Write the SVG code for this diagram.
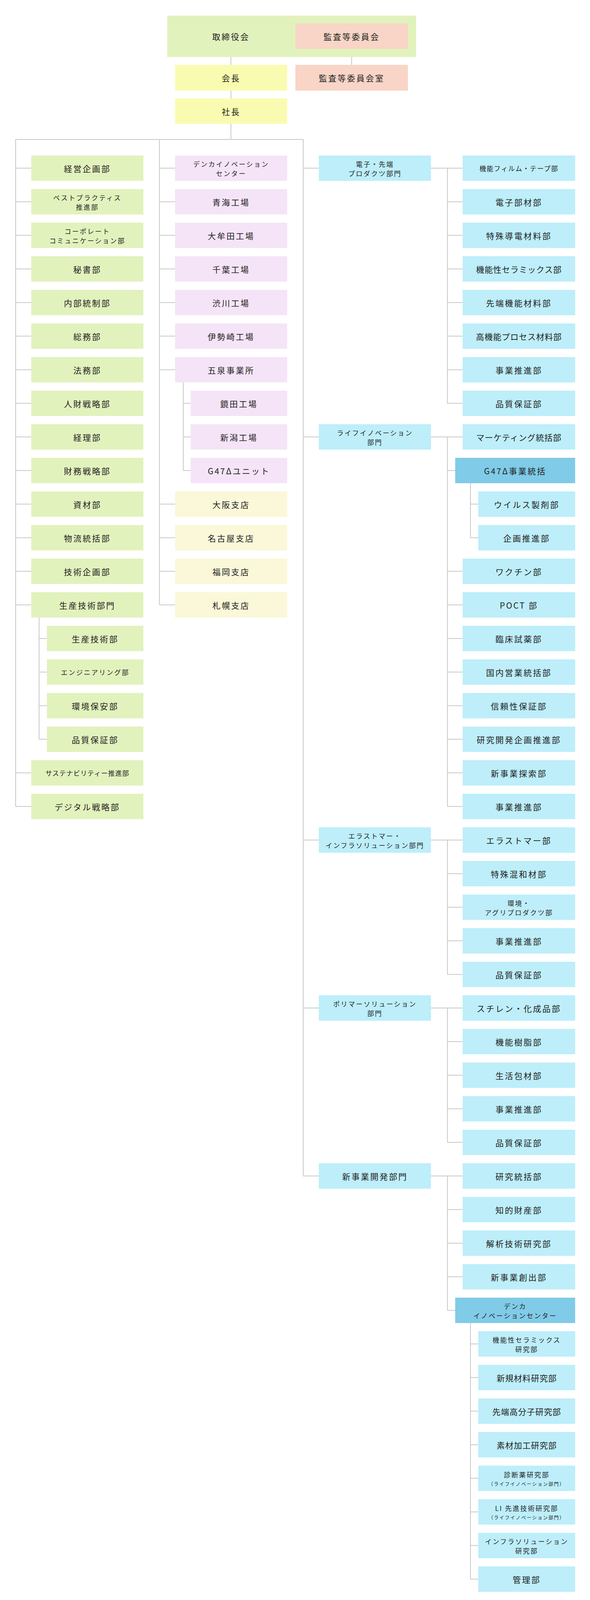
<svg xmlns="http://www.w3.org/2000/svg" width="1510" height="4116" viewBox="0 0 1510 4116">
<style>
text{font-family:"Noto Sans CJK JP","Noto Sans",sans-serif;font-size:21px;letter-spacing:3px;fill:#222;text-anchor:middle;dominant-baseline:central}
.s{font-size:17px;letter-spacing:2.5px}
.xs{font-size:12px;letter-spacing:2px}
.g{fill:#e2f2bd}.p{fill:#f5e4f7}.y{fill:#faf8d8}.b{fill:#bdeefa}.d{fill:#80cbe8}.k{fill:#f9fcb0}.a{fill:#f8d5c6}
#c path{stroke:#c8c8c8;stroke-width:2;fill:none}
</style>
<rect width="1510" height="4116" fill="#fff"/>
<g id="c">
<path d="M591 146V166M591 232V252M591 317V357M900 125V166M40 357H776M40 357V2064.5M408 357V1548.5M776 357V3010.5"/>
<path d="M40 430.5H80M40 516.5H80M40 602.5H80M40 688.5H80M40 774.5H80M40 860.5H80M40 946.5H80M40 1032.5H80M40 1118.5H80M40 1204.5H80M40 1290.5H80M40 1376.5H80M40 1462.5H80M40 1548.5H80M40 1978.5H80M40 2064.5H80"/>
<path d="M100 1581V1892.5M100 1634.5H120M100 1720.5H120M100 1806.5H120M100 1892.5H120"/>
<path d="M408 430.5H448M408 516.5H448M408 602.5H448M408 688.5H448M408 774.5H448M408 860.5H448M408 946.5H448M408 1290.5H448M408 1376.5H448M408 1462.5H448M408 1548.5H448"/>
<path d="M469 979V1204.5M469 1032.5H488M469 1118.5H488M469 1204.5H488"/>
<path d="M776 430.5H816M776 1118.5H816M776 2150.5H816M776 2580.5H816M776 3010.5H816"/>
<path d="M1103 430.5H1184M1145 430.5V1032.5M1145 516.5H1184M1145 602.5H1184M1145 688.5H1184M1145 774.5H1184M1145 860.5H1184M1145 946.5H1184M1145 1032.5H1184"/>
<path d="M1103 1118.5H1184M1145 1118.5V2064.5M1145 1204.5H1165M1145 1462.5H1184M1145 1548.5H1184M1145 1634.5H1184M1145 1720.5H1184M1145 1806.5H1184M1145 1892.5H1184M1145 1978.5H1184M1145 2064.5H1184"/>
<path d="M1204 1237V1376.5M1204 1290.5H1224M1204 1376.5H1224"/>
<path d="M1103 2150.5H1184M1145 2150.5V2494.5M1145 2236.5H1184M1145 2322.5H1184M1145 2408.5H1184M1145 2494.5H1184"/>
<path d="M1103 2580.5H1184M1145 2580.5V2924.5M1145 2666.5H1184M1145 2752.5H1184M1145 2838.5H1184M1145 2924.5H1184"/>
<path d="M1103 3010.5H1184M1145 3010.5V3354.5M1145 3096.5H1184M1145 3182.5H1184M1145 3268.5H1184M1145 3354.5H1165"/>
<path d="M1204 3387V4042.5M1204 3440.5H1224M1204 3526.5H1224M1204 3612.5H1224M1204 3698.5H1224M1204 3784.5H1224M1204 3870.5H1224M1204 3956.5H1224M1204 4042.5H1224"/>
</g>
<g id="board"><rect class="g" x="428" y="40" width="637" height="106"/><text x="591" y="93">取締役会</text></g>
<g id="audit"><rect class="a" x="756" y="60" width="288" height="65"/><text x="900" y="92.5">監査等委員会</text></g>
<g id="chairman"><rect class="k" x="448" y="166" width="287" height="66"/><text x="591.5" y="199">会長</text></g>
<g id="auditoffice"><rect class="a" x="756" y="166" width="288" height="66"/><text x="900" y="199">監査等委員会室</text></g>
<g id="president"><rect class="k" x="448" y="252" width="287" height="65"/><text x="591.5" y="284.5">社長</text></g>

<g id="l0" transform="translate(80,398)"><rect class="g" width="287" height="65"/><text x="143.5" y="32.5">経営企画部</text></g>
<g id="l1" transform="translate(80,484)"><rect class="g" width="287" height="65"/><text class="s" x="143.5" y="21">ベストプラクティス</text><text class="s" x="143.5" y="45">推進部</text></g>
<g id="l2" transform="translate(80,570)"><rect class="g" width="287" height="65"/><text class="s" x="143.5" y="21">コーポレート</text><text class="s" x="143.5" y="45">コミュニケーション部</text></g>
<g id="l3" transform="translate(80,656)"><rect class="g" width="287" height="65"/><text x="143.5" y="32.5">秘書部</text></g>
<g id="l4" transform="translate(80,742)"><rect class="g" width="287" height="65"/><text x="143.5" y="32.5">内部統制部</text></g>
<g id="l5" transform="translate(80,828)"><rect class="g" width="287" height="65"/><text x="143.5" y="32.5">総務部</text></g>
<g id="l6" transform="translate(80,914)"><rect class="g" width="287" height="65"/><text x="143.5" y="32.5">法務部</text></g>
<g id="l7" transform="translate(80,1000)"><rect class="g" width="287" height="65"/><text x="143.5" y="32.5">人財戦略部</text></g>
<g id="l8" transform="translate(80,1086)"><rect class="g" width="287" height="65"/><text x="143.5" y="32.5">経理部</text></g>
<g id="l9" transform="translate(80,1172)"><rect class="g" width="287" height="65"/><text x="143.5" y="32.5">財務戦略部</text></g>
<g id="l10" transform="translate(80,1258)"><rect class="g" width="287" height="65"/><text x="143.5" y="32.5">資材部</text></g>
<g id="l11" transform="translate(80,1344)"><rect class="g" width="287" height="65"/><text x="143.5" y="32.5">物流統括部</text></g>
<g id="l12" transform="translate(80,1430)"><rect class="g" width="287" height="65"/><text x="143.5" y="32.5">技術企画部</text></g>
<g id="l13" transform="translate(80,1516)"><rect class="g" width="287" height="65"/><text x="143.5" y="32.5">生産技術部門</text></g>
<g id="l14" transform="translate(120,1602)"><rect class="g" width="247" height="65"/><text x="123.5" y="32.5">生産技術部</text></g>
<g id="l15" transform="translate(120,1688)"><rect class="g" width="247" height="65"/><text class="s" x="123.5" y="32.5">エンジニアリング部</text></g>
<g id="l16" transform="translate(120,1774)"><rect class="g" width="247" height="65"/><text x="123.5" y="32.5">環境保安部</text></g>
<g id="l17" transform="translate(120,1860)"><rect class="g" width="247" height="65"/><text x="123.5" y="32.5">品質保証部</text></g>
<g id="l18" transform="translate(80,1946)"><rect class="g" width="287" height="65"/><text class="s" x="143.5" y="32.5" style="letter-spacing:1px">サステナビリティー推進部</text></g>
<g id="l19" transform="translate(80,2032)"><rect class="g" width="287" height="65"/><text x="143.5" y="32.5">デジタル戦略部</text></g>

<g id="m0" transform="translate(448,398)"><rect class="p" width="287" height="65"/><text class="s" x="143.5" y="21">デンカイノベーション</text><text class="s" x="143.5" y="45">センター</text></g>
<g id="m1" transform="translate(448,484)"><rect class="p" width="287" height="65"/><text x="143.5" y="32.5">青海工場</text></g>
<g id="m2" transform="translate(448,570)"><rect class="p" width="287" height="65"/><text x="143.5" y="32.5">大牟田工場</text></g>
<g id="m3" transform="translate(448,656)"><rect class="p" width="287" height="65"/><text x="143.5" y="32.5">千葉工場</text></g>
<g id="m4" transform="translate(448,742)"><rect class="p" width="287" height="65"/><text x="143.5" y="32.5">渋川工場</text></g>
<g id="m5" transform="translate(448,828)"><rect class="p" width="287" height="65"/><text x="143.5" y="32.5">伊勢崎工場</text></g>
<g id="m6" transform="translate(448,914)"><rect class="p" width="287" height="65"/><text x="143.5" y="32.5">五泉事業所</text></g>
<g id="m7" transform="translate(488,1000)"><rect class="p" width="247" height="65"/><text x="123.5" y="32.5">鏡田工場</text></g>
<g id="m8" transform="translate(488,1086)"><rect class="p" width="247" height="65"/><text x="123.5" y="32.5">新潟工場</text></g>
<g id="m9" transform="translate(488,1172)"><rect class="p" width="247" height="65"/><text x="123.5" y="32.5">G47Δユニット</text></g>
<g id="m10" transform="translate(448,1258)"><rect class="y" width="287" height="65"/><text x="143.5" y="32.5">大阪支店</text></g>
<g id="m11" transform="translate(448,1344)"><rect class="y" width="287" height="65"/><text x="143.5" y="32.5">名古屋支店</text></g>
<g id="m12" transform="translate(448,1430)"><rect class="y" width="287" height="65"/><text x="143.5" y="32.5">福岡支店</text></g>
<g id="m13" transform="translate(448,1516)"><rect class="y" width="287" height="65"/><text x="143.5" y="32.5">札幌支店</text></g>

<g id="d0" transform="translate(816,398)"><rect class="b" width="287" height="65"/><text class="s" x="143.5" y="21">電子・先端</text><text class="s" x="143.5" y="45">プロダクツ部門</text></g>
<g id="d8" transform="translate(816,1086)"><rect class="b" width="287" height="65"/><text class="s" x="143.5" y="21">ライフイノベーション</text><text class="s" x="143.5" y="45">部門</text></g>
<g id="d20" transform="translate(816,2118)"><rect class="b" width="287" height="65"/><text class="s" x="143.5" y="21">エラストマー・</text><text class="s" x="143.5" y="45">インフラソリューション部門</text></g>
<g id="d25" transform="translate(816,2548)"><rect class="b" width="287" height="65"/><text class="s" x="143.5" y="21">ポリマーソリューション</text><text class="s" x="143.5" y="45">部門</text></g>
<g id="d30" transform="translate(816,2978)"><rect class="b" width="287" height="65"/><text x="143.5" y="32.5">新事業開発部門</text></g>

<g id="r0" transform="translate(1184,398)"><rect class="b" width="288" height="65"/><text class="s" x="144" y="32.5" style="letter-spacing:1.5px">機能フィルム・テープ部</text></g>
<g id="r1" transform="translate(1184,484)"><rect class="b" width="288" height="65"/><text x="144" y="32.5">電子部材部</text></g>
<g id="r2" transform="translate(1184,570)"><rect class="b" width="288" height="65"/><text x="144" y="32.5">特殊導電材料部</text></g>
<g id="r3" transform="translate(1184,656)"><rect class="b" width="288" height="65"/><text x="144" y="32.5" style="letter-spacing:1px">機能性セラミックス部</text></g>
<g id="r4" transform="translate(1184,742)"><rect class="b" width="288" height="65"/><text x="144" y="32.5">先端機能材料部</text></g>
<g id="r5" transform="translate(1184,828)"><rect class="b" width="288" height="65"/><text x="144" y="32.5" style="letter-spacing:1px">高機能プロセス材料部</text></g>
<g id="r6" transform="translate(1184,914)"><rect class="b" width="288" height="65"/><text x="144" y="32.5">事業推進部</text></g>
<g id="r7" transform="translate(1184,1000)"><rect class="b" width="288" height="65"/><text x="144" y="32.5">品質保証部</text></g>
<g id="r8" transform="translate(1184,1086)"><rect class="b" width="288" height="65"/><text x="144" y="32.5" style="letter-spacing:1px">マーケティング統括部</text></g>
<g id="r9" transform="translate(1165,1172)"><rect class="d" width="307" height="65"/><text x="153.5" y="32.5">G47Δ事業統括</text></g>
<g id="r10" transform="translate(1224,1258)"><rect class="b" width="248" height="65"/><text x="124" y="32.5">ウイルス製剤部</text></g>
<g id="r11" transform="translate(1224,1344)"><rect class="b" width="248" height="65"/><text x="124" y="32.5">企画推進部</text></g>
<g id="r12" transform="translate(1184,1430)"><rect class="b" width="288" height="65"/><text x="144" y="32.5">ワクチン部</text></g>
<g id="r13" transform="translate(1184,1516)"><rect class="b" width="288" height="65"/><text x="144" y="32.5">POCT 部</text></g>
<g id="r14" transform="translate(1184,1602)"><rect class="b" width="288" height="65"/><text x="144" y="32.5">臨床試薬部</text></g>
<g id="r15" transform="translate(1184,1688)"><rect class="b" width="288" height="65"/><text x="144" y="32.5">国内営業統括部</text></g>
<g id="r16" transform="translate(1184,1774)"><rect class="b" width="288" height="65"/><text x="144" y="32.5">信頼性保証部</text></g>
<g id="r17" transform="translate(1184,1860)"><rect class="b" width="288" height="65"/><text x="144" y="32.5">研究開発企画推進部</text></g>
<g id="r18" transform="translate(1184,1946)"><rect class="b" width="288" height="65"/><text x="144" y="32.5">新事業探索部</text></g>
<g id="r19" transform="translate(1184,2032)"><rect class="b" width="288" height="65"/><text x="144" y="32.5">事業推進部</text></g>
<g id="r20" transform="translate(1184,2118)"><rect class="b" width="288" height="65"/><text x="144" y="32.5">エラストマー部</text></g>
<g id="r21" transform="translate(1184,2204)"><rect class="b" width="288" height="65"/><text x="144" y="32.5">特殊混和材部</text></g>
<g id="r22" transform="translate(1184,2290)"><rect class="b" width="288" height="65"/><text class="s" x="144" y="21">環境・</text><text class="s" x="144" y="45">アグリプロダクツ部</text></g>
<g id="r23" transform="translate(1184,2376)"><rect class="b" width="288" height="65"/><text x="144" y="32.5">事業推進部</text></g>
<g id="r24" transform="translate(1184,2462)"><rect class="b" width="288" height="65"/><text x="144" y="32.5">品質保証部</text></g>
<g id="r25" transform="translate(1184,2548)"><rect class="b" width="288" height="65"/><text x="144" y="32.5">スチレン・化成品部</text></g>
<g id="r26" transform="translate(1184,2634)"><rect class="b" width="288" height="65"/><text x="144" y="32.5">機能樹脂部</text></g>
<g id="r27" transform="translate(1184,2720)"><rect class="b" width="288" height="65"/><text x="144" y="32.5">生活包材部</text></g>
<g id="r28" transform="translate(1184,2806)"><rect class="b" width="288" height="65"/><text x="144" y="32.5">事業推進部</text></g>
<g id="r29" transform="translate(1184,2892)"><rect class="b" width="288" height="65"/><text x="144" y="32.5">品質保証部</text></g>
<g id="r30" transform="translate(1184,2978)"><rect class="b" width="288" height="65"/><text x="144" y="32.5">研究統括部</text></g>
<g id="r31" transform="translate(1184,3064)"><rect class="b" width="288" height="65"/><text x="144" y="32.5">知的財産部</text></g>
<g id="r32" transform="translate(1184,3150)"><rect class="b" width="288" height="65"/><text x="144" y="32.5">解析技術研究部</text></g>
<g id="r33" transform="translate(1184,3236)"><rect class="b" width="288" height="65"/><text x="144" y="32.5">新事業創出部</text></g>
<g id="r34" transform="translate(1165,3322)"><rect class="d" width="307" height="65"/><text class="s" x="153.5" y="21">デンカ</text><text class="s" x="153.5" y="45">イノベーションセンター</text></g>
<g id="r35" transform="translate(1224,3408)"><rect class="b" width="248" height="65"/><text class="s" x="124" y="21">機能性セラミックス</text><text class="s" x="124" y="45">研究部</text></g>
<g id="r36" transform="translate(1224,3494)"><rect class="b" width="248" height="65"/><text x="124" y="32.5" style="letter-spacing:1px">新規材料研究部</text></g>
<g id="r37" transform="translate(1224,3580)"><rect class="b" width="248" height="65"/><text x="124" y="32.5" style="letter-spacing:1px">先端高分子研究部</text></g>
<g id="r38" transform="translate(1224,3666)"><rect class="b" width="248" height="65"/><text x="124" y="32.5" style="letter-spacing:1px">素材加工研究部</text></g>
<g id="r39" transform="translate(1224,3752)"><rect class="b" width="248" height="65"/><text class="s" x="124" y="22">診断薬研究部</text><text class="xs" x="124" y="46">（ライフイノベーション部門）</text></g>
<g id="r40" transform="translate(1224,3838)"><rect class="b" width="248" height="65"/><text class="s" x="124" y="22">LI 先進技術研究部</text><text class="xs" x="124" y="46">（ライフイノベーション部門）</text></g>
<g id="r41" transform="translate(1224,3924)"><rect class="b" width="248" height="65"/><text class="s" x="124" y="21">インフラソリューション</text><text class="s" x="124" y="45">研究部</text></g>
<g id="r42" transform="translate(1224,4010)"><rect class="b" width="248" height="65"/><text x="124" y="32.5">管理部</text></g>
</svg>
